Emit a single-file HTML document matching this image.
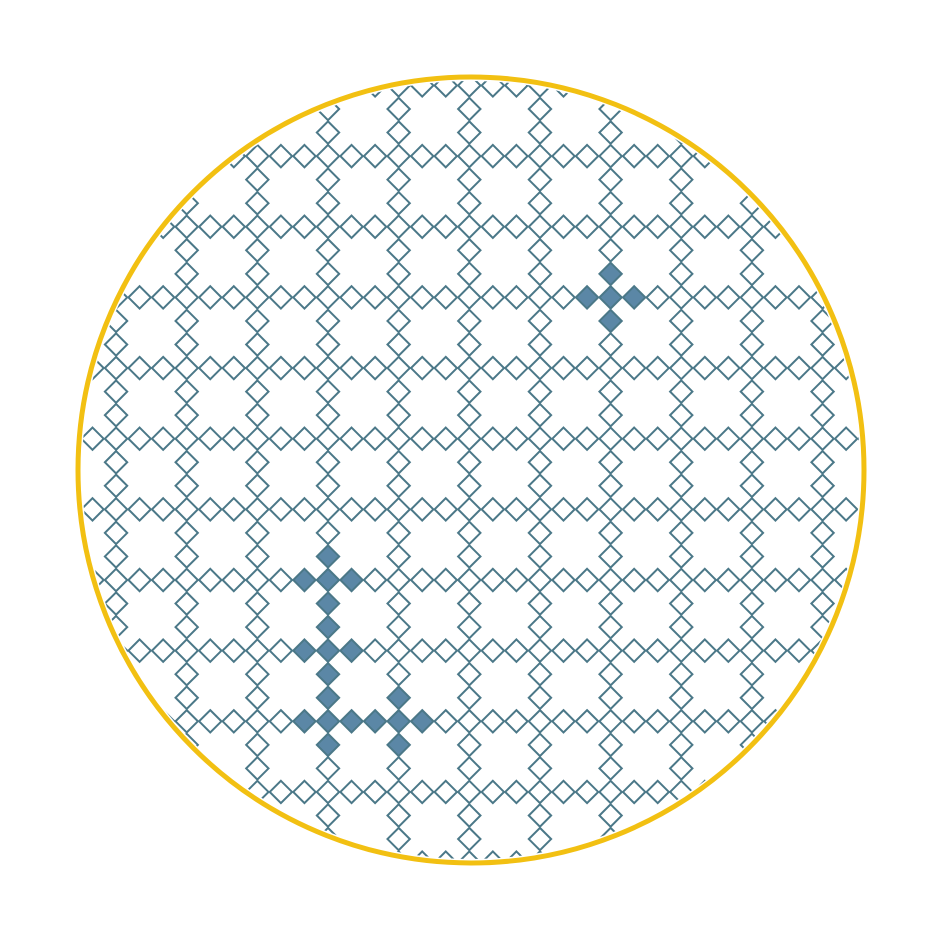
<!DOCTYPE html>
<html><head><meta charset="utf-8"><style>
html,body{margin:0;padding:0;background:#fff}
svg{display:block}
</style></head><body>
<svg id="chart" width="944" height="944" viewBox="0 0 944 944" xmlns="http://www.w3.org/2000/svg">
<defs><clipPath id="clip"><circle cx="471" cy="470" r="389"/></clipPath></defs>
<g id="lattice" clip-path="url(#clip)"></g>
<circle cx="471" cy="470" r="393" fill="none" stroke="#f2c012" stroke-width="5"/>
</svg>
<script>
// highlighted cells (grid units, relative to origin lattice point)
const filledU = [0,0,0,0,0,0,0,0,0,-1,1,-1,1,-1,1,2,3,4,3,3,12,12,12,11,13];
const filledV = [-1,0,1,2,3,4,5,6,7,0,0,3,3,6,6,6,6,6,5,7,-12,-13,-11,-12,-12];
const originX = 328, originY = 580, step = 23.55, period = 3;
const sx = u => originX + u * step;
const sy = v => originY + v * step;
const g = document.getElementById('lattice');
const ns = 'http://www.w3.org/2000/svg';
const filled = new Set(filledU.map((u,i)=>u+','+filledV[i]));
const h = step/2 - 0.6;
for (let u = -14; u <= 24; u++) {
  for (let v = -23; v <= 14; v++) {
    if (((u % period) + period) % period !== 0 && ((v % period) + period) % period !== 0) continue;
    const x = sx(u), y = sy(v);
    if (Math.hypot(x-471, y-470) > 400) continue;
    const isF = filled.has(u+','+v);
    const p = document.createElementNS(ns, 'polygon');
    p.setAttribute('points', `${x},${y-h} ${x+h},${y} ${x},${y+h} ${x-h},${y}`);
    p.setAttribute('fill', isF ? '#5b87a6' : 'none');
    p.setAttribute('stroke', '#4b7888');
    p.setAttribute('stroke-width', '2');
    
    
    g.appendChild(p);
  }
}
</script>
</body></html>
